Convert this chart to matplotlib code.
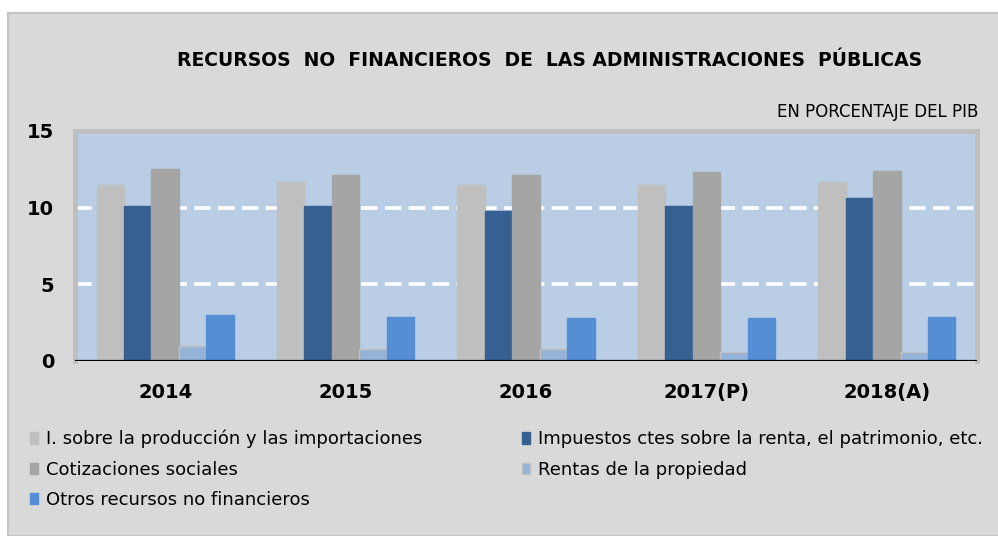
"""Recursos no financieros de las AAPP, en % del PIB."""

import matplotlib.pyplot as plt
from matplotlib.patches import Rectangle

# ------------------------------
# Data
# ------------------------------

years = ["2014", "2015", "2016", "2017(P)", "2018(A)"]

produccion = [11.5, 11.7, 11.5, 11.5, 11.7]
renta = [10.1, 10.1, 9.8, 10.1, 10.6]
cotizaciones = [12.5, 12.1, 12.1, 12.3, 12.4]
propiedad = [1.0, 0.8, 0.8, 0.6, 0.6]
otros = [3.0, 2.9, 2.8, 2.8, 2.9]

series = [
    ("I. sobre la producción y las importaciones", produccion, "#bfbfbf"),
    ("Impuestos ctes sobre la renta, el patrimonio, etc.", renta, "#366092"),
    ("Cotizaciones sociales", cotizaciones, "#a5a5a5"),
    ("Rentas de la propiedad", propiedad, "#95b3d7"),
    ("Otros recursos no financieros", otros, "#558ed5"),
]

# ------------------------------
# Figure
# ------------------------------

W, H = 998, 536
fig = plt.figure(figsize=(W / 100, H / 100), dpi=100, facecolor="white")
fig.patches.append(Rectangle((8 / W, 0), 1, 1 - 13 / H, transform=fig.transFigure,
                             facecolor="#d9d9d9", edgecolor="#c3c3c3", lw=1.5,
                             zorder=-5))

ax = fig.add_axes([75 / W, 1 - 361 / H, 902 / W, 230 / H])
ax.set_facecolor("#b9cde5")

w = 0.152
bars = {}
for j, (name, vals, col) in enumerate(series):
    xs = [i + (j - 2) * w for i in range(len(years))]
    edge = "#c0c0c0" if name.startswith("Rentas") else col
    bars[name] = ax.bar(xs, vals, width=w, color=col, edgecolor=edge,
                        linewidth=1, zorder=3, label=name)

for y in (5, 10):
    ax.axhline(y, color="white", lw=2.6, ls=(0, (4.6, 2.0)), zorder=1)
ax.axhline(0, color="black", lw=1.6, zorder=4)

ax.set_xlim(-0.5, len(years) - 0.5)
ax.set_ylim(0, 15)
ax.set_yticks([0, 5, 10, 15])
ax.set_xticks(range(len(years)))
ax.set_xticklabels(years)
ax.tick_params(length=0, labelsize=14, pad=16)
ax.tick_params(axis="y", pad=15)
for lab in ax.get_xticklabels() + ax.get_yticklabels():
    lab.set_fontweight("bold")

for s in ax.spines.values():
    s.set_color("#bfbfbf")
    s.set_linewidth(3.5)
ax.spines["bottom"].set_visible(False)

fig.text(550 / W, 1 - 60 / H,
         "RECURSOS  NO  FINANCIEROS  DE  LAS ADMINISTRACIONES  PÚBLICAS",
         ha="center", va="center", fontsize=13.5, fontweight="bold")
fig.text(978 / W, 1 - 112 / H, "EN PORCENTAJE DEL PIB",
         ha="right", va="center", fontsize=12)

names = [s[0] for s in series]
order = [0, 2, 4, 1, 3]
fig.legend([bars[names[k]] for k in order], [names[k] for k in order],
           ncol=2, loc="upper left", bbox_to_anchor=(30 / W, 1 - 430 / H),
           frameon=False, fontsize=13, handlelength=0.45, handleheight=0.6,
           handletextpad=0.45, columnspacing=5.5, labelspacing=0.68,
           borderaxespad=0, borderpad=0)

plt.savefig("out.png", dpi=100, facecolor=fig.get_facecolor())
